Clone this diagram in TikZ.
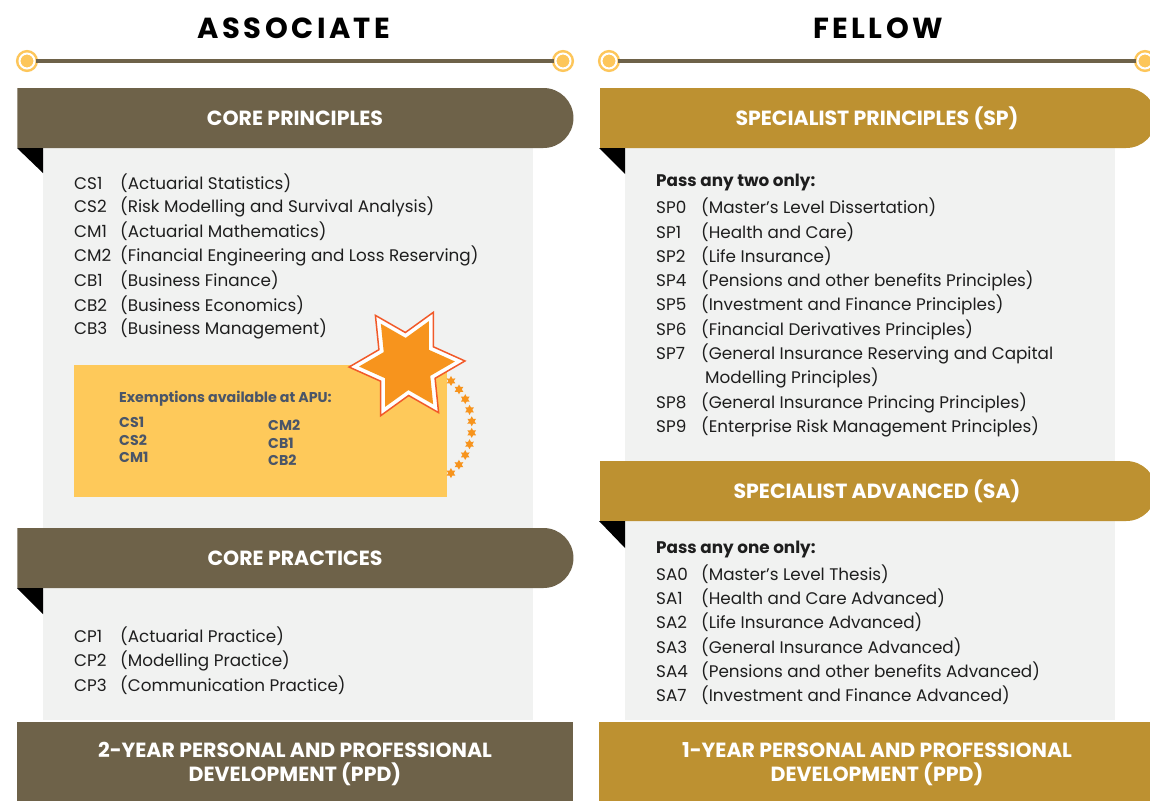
\documentclass[tikz,border=0pt]{standalone}
\usepackage{fontspec}
\setmainfont{Poppins}
\usepackage{tikz}
\usetikzlibrary{shapes.geometric,shapes.misc,fadings}
\definecolor{bannerbrown}{HTML}{6E6249}
\definecolor{bannergold}{HTML}{BD9131}
\definecolor{panelgray}{HTML}{F1F2F1}
\definecolor{boxyellow}{HTML}{FEC95A}
\definecolor{ringyellow}{HTML}{FDC65A}
\definecolor{starorange}{HTML}{F7941D}
\definecolor{starred}{HTML}{F15A29}
\definecolor{slate}{HTML}{4A5568}
\definecolor{inktext}{HTML}{1E1E1E}
\tikzfading[name=sidefade, left color=transparent!100, middle color=transparent!0, right color=transparent!100]

\begin{document}
\begin{tikzpicture}[x=1pt,y=-1pt,
		title/.style={font=\fontsize{29}{32}\selectfont\bfseries\addfontfeature{LetterSpace=12}},
		ring/.style={circle, minimum size=15pt, inner sep=0pt, fill=ringyellow, draw=ringyellow, line width=2.5pt, double=white, double distance=2pt},
		rule/.style={bannerbrown, line width=3pt},
		panel/.style={fill=panelgray},
		banner/.style={rounded rectangle, rounded rectangle left arc=none, minimum width=556pt, minimum height=60pt, inner sep=0pt, text=white, font=\fontsize{20.5}{23}\selectfont\bfseries},
		ppd/.style={rectangle, minimum width=556pt, minimum height=84pt, inner sep=0pt, text=white, align=center, font=\fontsize{20.5}{24}\selectfont\bfseries},
		fold/.style={fill=black},
		item/.style={anchor=west, inner sep=0pt, text=inktext, font=\fontsize{16.8}{20}\selectfont},
		head/.style={item, font=\fontsize{16.8}{20}\selectfont\bfseries},
		apu/.style={anchor=west, inner sep=0pt, text=slate, font=\fontsize{14.2}{17}\selectfont\bfseries},
		dropshade/.style={top color=black!30, bottom color=panelgray, path fading=sidefade},
		spark/.style={star, star points=6, star point ratio=1.8, minimum size=10pt, inner sep=0pt, fill=starorange}
	]
	\useasboundingbox (0,0) rectangle (1150,800);
	\fill[white] (0,0) rectangle (1150,800);

	\node[title] (assoc) at (294,28) {ASSOCIATE};
	\node[title] (fellow) at (878,28) {FELLOW};
	\node[ring] (ring-al) at (27,61) {};
	\node[ring] (ring-ar) at (563,61) {};
	\node[ring] (ring-fl) at (609,61) {};
	\node[ring] (ring-fr) at (1145,61) {};
	\draw[rule] (ring-al) -- (ring-ar);
	\draw[rule] (ring-fl) -- (ring-fr);

	\fill[panel] (43,148) rectangle (533,720);
	\fill[panel] (625,148) rectangle (1115,720);
	\fill[dropshade] (50,148) rectangle (530,172);
	\fill[dropshade] (632,148) rectangle (1112,172);
	\fill[dropshade] (50,588) rectangle (530,612);
	\fill[dropshade] (632,521) rectangle (1112,545);
	\fill[dropshade] (100,497) rectangle (430,513);

	\node[banner, fill=bannerbrown] (corepr) at (295,118) {CORE PRINCIPLES};
	\node[banner, fill=bannerbrown] (corepa) at (295,558) {CORE PRACTICES};
	\node[banner, fill=bannergold] (spec) at (877,118) {SPECIALIST PRINCIPLES (SP)};
	\node[banner, fill=bannergold] (adv) at (877,491) {SPECIALIST ADVANCED (SA)};
	\node[ppd, fill=bannerbrown] (ppd-a) at (295,764) {2-YEAR PERSONAL AND PROFESSIONAL\\DEVELOPMENT (PPD)};
	\node[ppd, fill=bannergold] (ppd-f) at (877,764) {1-YEAR PERSONAL AND PROFESSIONAL\\DEVELOPMENT (PPD)};
	\fill[fold] (17,148) -- (43,148) -- (43,173) -- cycle;
	\fill[fold] (17,588) -- (43,588) -- (43,614) -- cycle;
	\fill[fold] (599,148) -- (625,148) -- (625,174) -- cycle;
	\fill[fold] (599,521) -- (625,521) -- (625,548) -- cycle;

	\foreach \code/\desc [count=\i] in {CS1/Actuarial Statistics, CS2/Risk Modelling and Survival Analysis, CM1/Actuarial Mathematics, CM2/Financial Engineering and Loss Reserving, CB1/Business Finance, CB2/Business Economics, CB3/Business Management}
		\node[item] (core-\i) at (74,{158.5+24.4*\i}) {\makebox[46pt][l]{\code}(\desc)};
	\foreach \code/\desc [count=\i] in {CP1/Actuarial Practice, CP2/Modelling Practice, CP3/Communication Practice}
		\node[item] (prac-\i) at (74,{611.5+24.5*\i}) {\makebox[46pt][l]{\code}(\desc)};

	\node[head] (sp-head) at (656,183) {Pass any two only:};
	\foreach \code/\desc [count=\i] in {SP0/Master's Level Dissertation, SP1/Health and Care, SP2/Life Insurance, SP4/Pensions and other benefits Principles, SP5/Investment and Finance Principles, SP6/Financial Derivatives Principles}
		\node[item] (sp-\i) at (656,{183+24.4*\i}) {\makebox[45pt][l]{\code}(\desc)};
	\node[item] (sp-7) at (656,353.8) {\makebox[45pt][l]{SP7}(General Insurance Reserving and Capital};
	\node[item] (sp-7b) at (705,378.2) {Modelling Principles)};
	\node[item] (sp-8) at (656,402.6) {\makebox[45pt][l]{SP8}(General Insurance Princing Principles)};
	\node[item] (sp-9) at (656,427) {\makebox[45pt][l]{SP9}(Enterprise Risk Management Principles)};

	\node[head] (sa-head) at (656,550) {Pass any one only:};
	\foreach \code/\desc [count=\i] in {SA0/Master's Level Thesis, SA1/Health and Care Advanced, SA2/Life Insurance Advanced, SA3/General Insurance Advanced, SA4/Pensions and other benefits Advanced, SA7/Investment and Finance Advanced}
		\node[item] (sa-\i) at (656,{550+24.2*\i}) {\makebox[45pt][l]{\code}(\desc)};

	\node[fill=boxyellow, minimum width=373pt, minimum height=132pt, inner sep=0pt] (apubox) at (260.5,431) {};
	\node[apu] (apu-head) at (119,399) {Exemptions available at APU:};
	\node[apu] (apu-cs1) at (119,422) {CS1};
	\node[apu] (apu-cs2) at (119,440) {CS2};
	\node[apu] (apu-cm1) at (119,457) {CM1};
	\node[apu] (apu-cm2) at (268,425) {CM2};
	\node[apu] (apu-cb1) at (268,443) {CB1};
	\node[apu] (apu-cb2) at (268,460) {CB2};

	\node[star, star points=6, star point ratio=1.84, minimum size=116pt, inner sep=0pt, rotate=-27, fill=white, draw=starred, line width=1.5pt] (burst) at (407,364) {};
	\node[star, star points=6, star point ratio=1.84, minimum size=96pt, inner sep=0pt, rotate=-27, fill=starorange] (burst-in) at (407,364) {};
	\foreach \k in {0,...,9}
		\node[spark] (spark-\k) at ({411+61*cos(49-10.9*\k)},{427-61*sin(49-10.9*\k)}) {};
\end{tikzpicture}
\end{document}
